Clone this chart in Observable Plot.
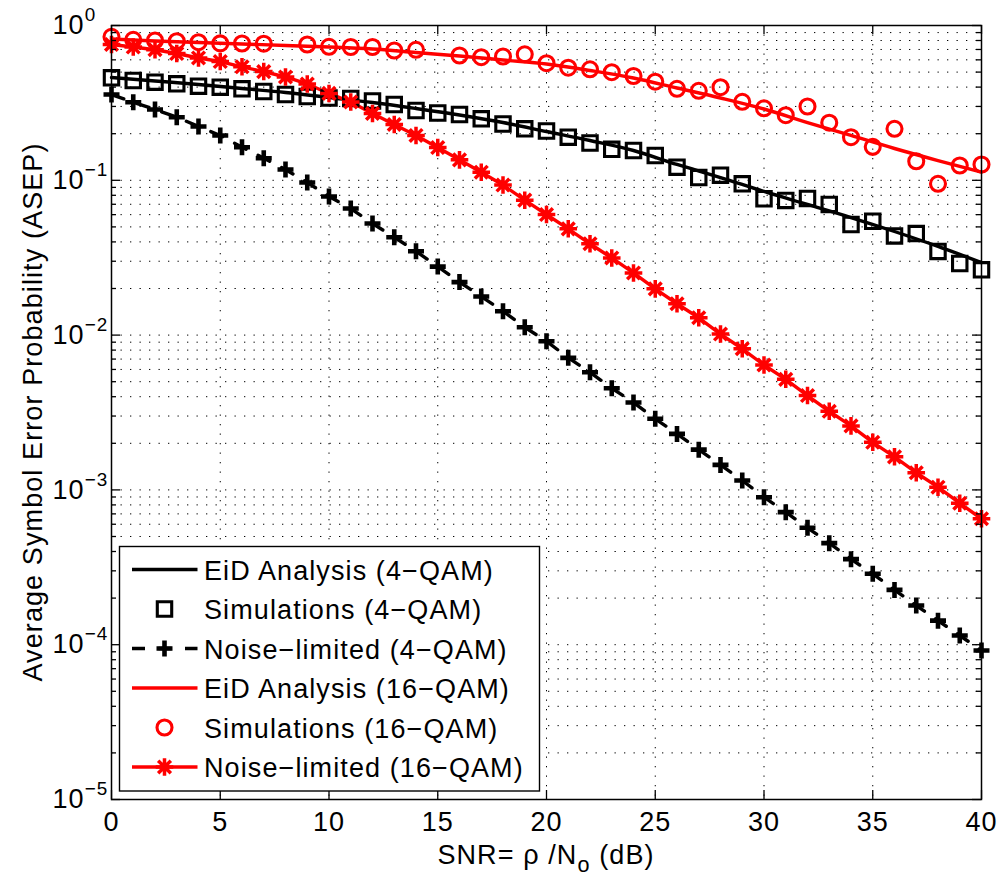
<!DOCTYPE html>
<html>
<head>
<meta charset="utf-8">
<script src="https://cdn.jsdelivr.net/npm/d3@7"></script>
<script src="https://cdn.jsdelivr.net/npm/@observablehq/plot@0.6"></script>
<style>
  html, body { margin: 0; padding: 0; background: #fff; }
  #chart svg { display: block; }
</style>
</head>
<body>
<div id="chart"></div>
<script>
// ---------------- data ----------------
const snr = [0,1,2,3,4,5,6,7,8,9,10,11,12,13,14,15,16,17,18,19,20,21,22,23,24,25,26,27,28,29,30,31,32,33,34,35,36,37,38,39,40];

// Noise-limited (4-QAM), dashed black with "+"
const noise4 = [0.358,0.3195,0.2867,0.2556,0.2226,0.1948,0.1636,0.1389,0.1174,0.0968,0.0786,0.0657,0.0526,0.0429,0.0348,0.0277,0.0220,0.01776,0.01427,0.01124,0.00913,0.00713,0.00576,0.00454,0.00367,0.00288,0.00230,0.00182,0.00145,0.00115,0.000897,0.000718,0.000569,0.000453,0.000357,0.000287,0.000226,0.000179,0.000143,0.0001147,0.0000917];

// Noise-limited (16-QAM), solid red with "*"
const noise16 = [0.754,0.726,0.697,0.659,0.617,0.585,0.541,0.504,0.465,0.419,0.364,0.3205,0.270,0.2293,0.1948,0.1628,0.1356,0.1128,0.0932,0.0744,0.0601,0.0486,0.0389,0.0315,0.0252,0.0199,0.01594,0.01294,0.01016,0.00816,0.00641,0.00518,0.00407,0.00322,0.00259,0.00203,0.001636,0.001291,0.001041,0.000820,0.000651];

// Simulations (4-QAM), black squares
const sim4 = [0.4595,0.4413,0.4302,0.4201,0.4054,0.3994,0.3900,0.3747,0.3584,0.3478,0.3402,0.3377,0.3254,0.3088,0.2825,0.2722,0.2661,0.2496,0.2311,0.2151,0.2082,0.1899,0.1741,0.1586,0.1558,0.1446,0.1215,0.1042,0.1079,0.0949,0.0760,0.0741,0.0763,0.0698,0.0518,0.0544,0.0437,0.0453,0.0347,0.0290,0.0264];

// Simulations (16-QAM), red circles (no marker at 8 and 15 dB)
const sim16Snr = [0,1,2,3,4,5,6,7,9,10,11,12,13,14,16,17,18,19,20,21,22,23,24,25,26,27,28,29,30,31,32,33,34,35,36,37,38,39,40];
const sim16 = [0.8453,0.8086,0.8001,0.7918,0.7801,0.766,0.765,0.763,0.7538,0.7287,0.7265,0.7265,0.6894,0.6966,0.6399,0.6240,0.6306,0.6516,0.5706,0.5338,0.5213,0.4993,0.4718,0.4335,0.3900,0.3786,0.3994,0.3215,0.2918,0.2633,0.2997,0.2355,0.1899,0.1645,0.2151,0.1328,0.0949,0.1246,0.1265];

// EiD Analysis curves (smooth lines)
const eidSnr = [0,2,4,6,8,10,12,14,16,18,20,22,24,26,28,30,32,34,36,38,40];
const eid4 = [0.4613,0.4381,0.4159,0.3917,0.3692,0.3427,0.3181,0.2909,0.2641,0.2361,0.2066,0.1807,0.1558,0.1265,0.1042,0.0847,0.0698,0.0575,0.0467,0.0374,0.0294];
const eid16 = [0.8180,0.7940,0.7766,0.7595,0.7427,0.7264,0.7051,0.6692,0.6353,0.5985,0.5641,0.5121,0.4579,0.3947,0.3402,0.2888,0.2361,0.1948,0.1605,0.1342,0.1131];

// axes
const xTicks = [0,5,10,15,20,25,30,35,40];
const xGrid = [5,10,15,20,25,30,35];
const yDecades = [1e-5,1e-4,1e-3,1e-2,1e-1,1];
const yExponents = ["−5","−4","−3","−2","−1","0"];
const yMinorMult = [2,3,4,5,6,7,8,9];
const xLabelMain = "SNR= ρ /N";
const xLabelSub = "o";
const xLabelTail = " (dB)";
const yLabel = "Average Symbol Error Probability (ASEP)";

const legendLabels = [
  "EiD Analysis (4−QAM)",
  "Simulations (4−QAM)",
  "Noise−limited (4−QAM)",
  "EiD Analysis (16−QAM)",
  "Simulations (16−QAM)",
  "Noise−limited (16−QAM)"
];

// ---------------- styling ----------------
const RED = "#ff0000", BLACK = "#000000";
const FONT = "'Liberation Sans', Arial, Helvetica, sans-serif";
const FS = 27;
const W = 1005, H = 881;
const mL = 111, mR = 24, mT = 25, mB = 82;
const frameW = W - mL - mR, frameH = H - mT - mB;

// marker symbols (MATLAB-like)
const symSquare = {draw(c, s) { const r = Math.sqrt(s / Math.PI); c.moveTo(-r, -r); c.lineTo(r, -r); c.lineTo(r, r); c.lineTo(-r, r); c.closePath(); }};
const symCircle = {draw(c, s) { const r = Math.sqrt(s / Math.PI); c.moveTo(r, 0); c.arc(0, 0, r, 0, 2 * Math.PI); c.closePath(); }};
const symPlus = {draw(c, s) { const r = Math.sqrt(s / Math.PI); c.moveTo(-r, 0); c.lineTo(r, 0); c.moveTo(0, -r); c.lineTo(0, r); }};
const symStar = {draw(c, s) { const r = Math.sqrt(s / Math.PI); const d = r * 0.72;
  c.moveTo(-r, 0); c.lineTo(r, 0); c.moveTo(0, -r); c.lineTo(0, r);
  c.moveTo(-d, -d); c.lineTo(d, d); c.moveTo(-d, d); c.lineTo(d, -d); }};

const M = {
  sq: {sym: symSquare, r: 7.2, sw: 3.1},
  ci: {sym: symCircle, r: 7.5, sw: 3.1},
  pl: {sym: symPlus, r: 8, sw: 4.6},
  st: {sym: symStar, r: 8.8, sw: 3.5}
};

const rows = (xs, ys) => xs.map((x, i) => ({x, y: ys[i]}));
const dNoise4 = rows(snr, noise4);
const dNoise16 = rows(snr, noise16);
const dSim4 = rows(snr, sim4);
const dSim16 = rows(sim16Snr, sim16);
const dEid4 = rows(eidSnr, eid4);
const dEid16 = rows(eidSnr, eid16);

const yMinor = yDecades.slice(0, -1).flatMap(d => yMinorMult.map(m => m * d));
const yGrid = yMinor.concat(yDecades.slice(1, -1));

const gridStyle = {stroke: BLACK, strokeWidth: 1, strokeOpacity: 1, strokeDasharray: "1.3,8.2"};
const tickStyle = {stroke: BLACK, strokeWidth: 1.3, strokeOpacity: 1};
const MAJ = 9, MIN = 5;
const LW = 3.4;

const chart = Plot.plot({
  width: W, height: H,
  marginLeft: mL, marginRight: mR, marginTop: mT, marginBottom: mB,
  style: {fontFamily: FONT, fontSize: FS + "px", background: "#fff", color: BLACK, letterSpacing: "1.1px"},
  x: {domain: [0, 40]},
  y: {type: "log", domain: [1e-5, 1]},
  marks: [
    // dotted grid
    Plot.ruleY(yGrid, {y: d => d, ...gridStyle}),
    Plot.ruleX(xGrid, {x: d => d, ...gridStyle}),
    // curves
    Plot.line(dEid16, {x: "x", y: "y", stroke: RED, strokeWidth: LW, curve: "monotone-x"}),
    Plot.line(dEid4, {x: "x", y: "y", stroke: BLACK, strokeWidth: LW, curve: "monotone-x"}),
    Plot.line(dNoise16, {x: "x", y: "y", stroke: RED, strokeWidth: LW}),
    Plot.line(dNoise4, {x: "x", y: "y", stroke: BLACK, strokeWidth: LW, strokeDasharray: "13,13.5"}),
    // markers
    Plot.dot(dSim4, {x: "x", y: "y", symbol: M.sq.sym, r: M.sq.r, stroke: BLACK, strokeWidth: M.sq.sw, fill: "none"}),
    Plot.dot(dSim16, {x: "x", y: "y", symbol: M.ci.sym, r: M.ci.r, stroke: RED, strokeWidth: M.ci.sw, fill: "none"}),
    Plot.dot(dNoise4, {x: "x", y: "y", symbol: M.pl.sym, r: M.pl.r, stroke: BLACK, strokeWidth: M.pl.sw, fill: "none"}),
    Plot.dot(dNoise16, {x: "x", y: "y", symbol: M.st.sym, r: M.st.r, stroke: RED, strokeWidth: M.st.sw, fill: "none"}),
    // box
    Plot.frame({stroke: BLACK, strokeWidth: 1.5}),
    // inward ticks
    Plot.tickX(xTicks, {x: d => d, insetTop: frameH - MAJ, ...tickStyle}),
    Plot.tickX(xTicks, {x: d => d, insetBottom: frameH - MAJ, ...tickStyle}),
    Plot.tickY(yDecades, {y: d => d, insetRight: frameW - MAJ, ...tickStyle}),
    Plot.tickY(yDecades, {y: d => d, insetLeft: frameW - MAJ, ...tickStyle}),
    Plot.tickY(yMinor, {y: d => d, insetRight: frameW - MIN, ...tickStyle}),
    Plot.tickY(yMinor, {y: d => d, insetLeft: frameW - MIN, ...tickStyle}),
    // tick labels
    Plot.axisX({ticks: xTicks, tickSize: 0, tickPadding: 12, label: null, fontSize: FS, tickFormat: d => String(d)}),
    Plot.axisY({ticks: yDecades, tickSize: 0, tickPadding: 0, label: null, fontSize: FS, textAnchor: "start", dx: -59,
      tickFormat: d => yExponents[yDecades.indexOf(d)]})
  ]
});

document.getElementById("chart").appendChild(chart);
const svg = d3.select(chart);

// y tick labels: "10" with superscript exponent
svg.selectAll('g[aria-label="y-axis tick label"] text').each(function () {
  const t = d3.select(this);
  const e = t.text();
  t.text("10");
  t.append("tspan").attr("dy", "-13px").attr("font-size", (FS * 0.7) + "px").text(e);
});

// axis titles
const xl = svg.append("text")
  .attr("x", (mL + W - mR) / 2).attr("y", 864)
  .attr("text-anchor", "middle").attr("font-size", FS + "px").attr("fill", BLACK);
xl.append("tspan").text(xLabelMain);
xl.append("tspan").attr("dy", "8px").attr("font-size", (FS * 0.8) + "px").text(xLabelSub);
xl.append("tspan").attr("dy", "-8px").attr("font-size", FS + "px").text(xLabelTail);

svg.append("text")
  .attr("transform", `translate(42,${(mT + H - mB) / 2}) rotate(-90)`)
  .attr("text-anchor", "middle").attr("font-size", FS + "px").attr("fill", BLACK)
  .text(yLabel);

// legend (inside axes, lower-left)
const lg = svg.append("g");
lg.append("rect").attr("x", 119.5).attr("y", 546.5).attr("width", 420).attr("height", 244.5)
  .attr("fill", "#fff").attr("stroke", BLACK).attr("stroke-width", 1.4);
const legendStyle = [
  {stroke: BLACK, line: true, dash: null, m: null},
  {stroke: BLACK, line: false, m: M.sq},
  {stroke: BLACK, line: true, dash: "13,13.5", m: M.pl},
  {stroke: RED, line: true, dash: null, m: null},
  {stroke: RED, line: false, m: M.ci},
  {stroke: RED, line: true, dash: null, m: M.st}
];
legendLabels.forEach((label, i) => {
  const cy = 569.5 + i * 39.5;
  const st = legendStyle[i];
  if (st.line) {
    lg.append("line").attr("x1", 132).attr("x2", 197.5).attr("y1", cy).attr("y2", cy)
      .attr("stroke", st.stroke).attr("stroke-width", LW)
      .attr("stroke-dasharray", st.dash);
  }
  if (st.m) {
    lg.append("path").attr("transform", `translate(164.5,${cy})`)
      .attr("d", d3.symbol(st.m.sym, st.m.r * st.m.r * Math.PI)())
      .attr("fill", "none").attr("stroke", st.stroke).attr("stroke-width", st.m.sw);
  }
  lg.append("text").attr("x", 204).attr("y", cy + 10)
    .attr("text-anchor", "start")
    .attr("font-size", FS + "px").attr("fill", BLACK).text(label);
});
</script>
</body>
</html>
